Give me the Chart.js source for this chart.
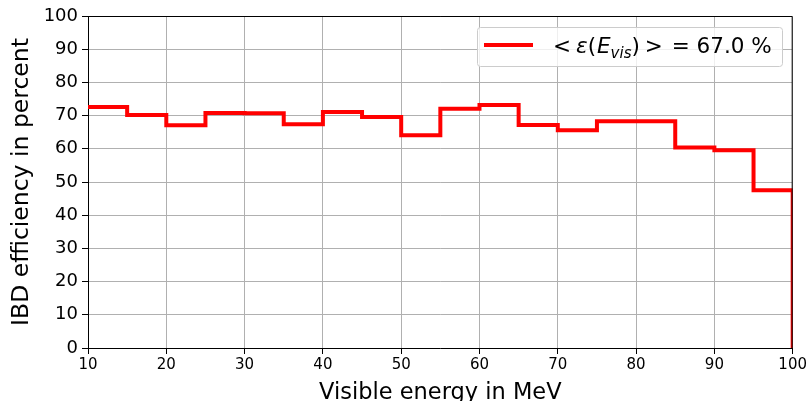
<!DOCTYPE html>
<html>
<head>
<meta charset="utf-8">
<script src="https://cdn.jsdelivr.net/npm/chart.js@4.4.0/dist/chart.umd.min.js"></script>
<style>
html, body { margin: 0; padding: 0; background: #fff; }
#wrap { width: 809px; height: 401px; position: relative; }
</style>
</head>
<body>
<div id="wrap"><canvas id="chart_ibd"></canvas></div>
<script>
// bin edges in MeV (5 MeV bins) and IBD efficiency per bin in percent
var binEdges = [10, 15, 20, 25, 30, 35, 40, 45, 50, 55, 60, 65, 70, 75, 80, 85, 90, 95, 100];
var efficiency = [72.6, 70.2, 67.1, 70.8, 70.7, 67.4, 71.1, 69.6, 64.1, 72.1, 73.2, 67.2, 65.6, 68.3, 68.3, 60.4, 59.6, 47.5];
var meanEfficiency = 67.0;
var xTicks = [10, 20, 30, 40, 50, 60, 70, 80, 90, 100];
var yTicks = [0, 10, 20, 30, 40, 50, 60, 70, 80, 90, 100];

(function() {
    "use strict"

    var FONT = '"DejaVu Sans", "Liberation Sans", sans-serif';

    // step histogram: left edge of each bin, then close at the last edge down to 0
    var points = efficiency.map(function(v, i) { return {x: binEdges[i], y: v}; });
    var lastEdge = binEdges[binEdges.length - 1];
    points.push({x: lastEdge, y: efficiency[efficiency.length - 1]});
    points.push({x: lastEdge, y: 0});

    var frameAndLegend = {
        id: 'frameAndLegend',
        afterDraw: function(chart) {
            var ctx = chart.ctx, a = chart.chartArea;
            ctx.save();
            // top and right spines
            ctx.strokeStyle = '#000';
            ctx.lineWidth = 1;
            ctx.beginPath();
            ctx.moveTo(a.left, a.top + 0.5);
            ctx.lineTo(a.right - 0.5, a.top + 0.5);
            ctx.lineTo(a.right - 0.5, a.bottom);
            ctx.stroke();

            // legend box
            ctx.beginPath();
            ctx.roundRect(477.5, 27.5, 305, 39, 3);
            ctx.fillStyle = 'rgba(255,255,255,0.8)';
            ctx.fill();
            ctx.strokeStyle = '#cccccc';
            ctx.stroke();

            ctx.beginPath();
            ctx.moveTo(484, 45);
            ctx.lineTo(533, 45);
            ctx.strokeStyle = '#ff0000';
            ctx.lineWidth = 4;
            ctx.stroke();

            // legend label: < eps(E_vis) > = 67.0 %
            var up = '21.5px ' + FONT, it = 'italic 21.5px ' + FONT, sub = 'italic 15px ' + FONT;
            var parts = [
                {t: '<', f: up, gap: 0},
                {t: '\u03b5', f: it, gap: 5},
                {t: '(', f: up, gap: 0},
                {t: 'E', f: it, gap: 1},
                {t: 'vis', f: sub, gap: 0, dy: 5},
                {t: ')', f: up, gap: 0},
                {t: '>', f: up, gap: 5},
                {t: ' = ' + meanEfficiency.toFixed(1) + ' %', f: up, gap: 2}
            ];
            var x = 553, base = 53;
            ctx.fillStyle = '#000';
            ctx.textBaseline = 'alphabetic';
            ctx.textAlign = 'left';
            parts.forEach(function(p) {
                ctx.font = p.f;
                x += p.gap;
                ctx.fillText(p.t, x, base + (p.dy || 0));
                x += ctx.measureText(p.t).width;
            });
            ctx.restore();
        }
    };

    var ctx = document.getElementById('chart_ibd').getContext('2d');

    var myChart = new Chart(ctx, {
        type: 'line',
        data: {
            datasets: [{
                label: 'efficiency',
                data: points,
                stepped: 'before',
                fill: false,
                borderColor: '#ff0000',
                borderWidth: 4,
                pointRadius: 0,
                clip: 0
            }]
        },
        options: {
            responsive: true,
            maintainAspectRatio: false,
            animation: false,
            layout: { padding: { top: 16, right: 16, left: 0, bottom: 0 } },
            plugins: { legend: { display: false }, tooltip: { enabled: false } },
            scales: {
                x: {
                    type: 'linear',
                    min: binEdges[0],
                    max: lastEdge,
                    afterBuildTicks: function(s) { s.ticks = xTicks.map(function(v) { return {value: v}; }); },
                    afterFit: function(s) { s.height = 53; },
                    grid: { color: '#b0b0b0', lineWidth: 1, tickColor: '#000', tickLength: 6, tickWidth: 1 },
                    border: { color: '#000', width: 1 },
                    ticks: { color: '#000', font: { family: FONT, size: 15 }, padding: 2, maxRotation: 0 },
                    title: { display: true, text: 'Visible energy in MeV', color: '#000',
                             font: { family: FONT, size: 22.5, lineHeight: 1 }, padding: { top: 0, bottom: -3 } }
                },
                y: {
                    min: 0,
                    max: 100,
                    afterBuildTicks: function(s) { s.ticks = yTicks.map(function(v) { return {value: v}; }); },
                    afterFit: function(s) { s.width = 88; },
                    grid: { color: '#b0b0b0', lineWidth: 1, tickColor: '#000', tickLength: 6, tickWidth: 1 },
                    border: { color: '#000', width: 1 },
                    ticks: { color: '#000', font: { family: FONT, size: 18 }, padding: 4 },
                    title: { display: true, text: 'IBD efficiency in percent', color: '#000',
                             font: { family: FONT, size: 23.5, lineHeight: 1 }, padding: { top: 10, bottom: 0 } }
                }
            }
        },
        plugins: [frameAndLegend]
    });
})();
</script>
</body>
</html>
